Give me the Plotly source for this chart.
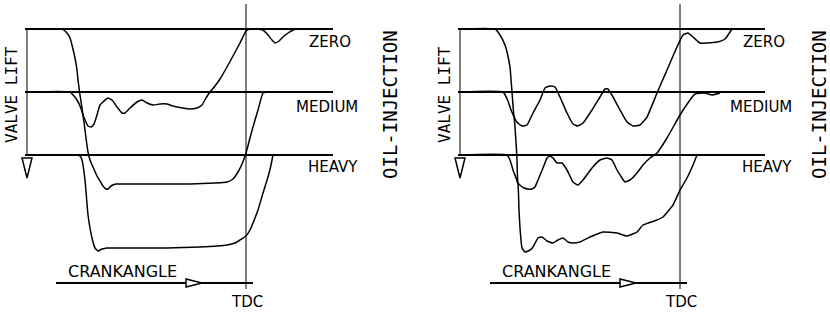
import plotly.graph_objects as go

# ---------------- data (crank angle in deg rel. to TDC, valve lift in arbitrary units, positive = open) -------------
# Left panel
L_zero_deg = [-218, -184, -181, -179, -176, -174, -171, -169, -168, -166, -164, -163, -161, -158, -155, -152, -149, -146, -143, -138,
              -134, -129, -124, -121, -116, -109, -104, -99, -93, -86, -79, -73, -63, -56, -49, -44, -40, -36, -31, -26,
              -19, -13, -6, 0, 4, 10, 17, 22, 26, 29, 33, 37, 42, 47, 50]
L_zero_lift = [0, 0, 2, 4, 9, 16, 29, 41, 51, 66, 79, 86, 91, 97, 98, 95, 86, 76, 73, 69,
               71, 78, 84, 84, 79, 73, 71, 74, 76, 75, 75, 77, 79, 80, 79, 76, 69, 63, 57, 50,
               38, 27, 14, 2, 0, 0, 1, 6, 11, 14, 12, 8, 4, 1, 0]
L_medium_deg = [-218, -176, -172, -169, -166, -163, -162, -160, -158, -156, -153, -149, -146, -143, -140, -138, -135, -130, -116, -86,
                -56, -31, -19, -13, -8, -4, 0, 4, 7, 12, 17, 22]
L_medium_lift = [0, 0, 4, 8, 14, 23, 30, 46, 60, 68, 75, 84, 89, 94, 97, 97, 94, 92, 92, 92,
                 92, 91, 90, 87, 80, 72, 61, 46, 35, 18, 1, 0]
L_heavy_deg = [-218, -169, -166, -164, -161, -158, -154, -151, -148, -144, -139, -116, -79, -46, -19, -11, -6, 0, 4, 7,
               12, 17, 22, 25, 27]
L_heavy_lift = [0, 0, 1, 5, 25, 60, 83, 93, 96, 94, 93, 93, 93, 92, 90, 88, 85, 81, 75, 68,
                55, 38, 22, 10, 0]

# Right panel
R_zero_deg = [-220, -185, -180, -175, -173, -170, -168, -166, -164, -161, -158, -153, -147, -140, -135, -130, -125, -120, -113, -107,
              -102, -97, -88, -80, -75, -72, -67, -60, -53, -47, -40, -33, -23, -13, -3, 3, 8, 13, 20, 27,
              37, 45, 52]
R_zero_lift = [0, 0, 6, 16, 23, 38, 63, 87, 92, 95, 97, 96, 84, 71, 59, 57, 58, 68, 84, 95,
               97, 94, 81, 68, 60, 60, 68, 81, 93, 97, 96, 88, 64, 41, 18, 6, 4, 8, 14, 14,
               13, 10, 0]
R_medium_deg = [-220, -177, -172, -169, -166, -164, -163, -162, -159, -156, -152, -148, -145, -142, -137, -133, -130, -127, -123, -118,
                -113, -107, -102, -97, -88, -80, -73, -68, -63, -58, -55, -50, -43, -37, -30, -23, -13, 0, 10, 15,
                25, 32, 40]
R_medium_lift = [0, 0, 9, 18, 25, 50, 68, 91, 94, 96, 97, 97, 95, 88, 76, 66, 64, 66, 71, 71,
                 78, 90, 93, 88, 76, 68, 66, 68, 78, 86, 90, 88, 81, 73, 66, 61, 46, 23, 8, 2,
                 1, 3, 1]
R_heavy_deg = [-220, -173, -170, -167, -164, -162, -161, -160, -158, -155, -150, -147, -142, -138, -133, -127, -122, -117, -112, -107,
               -100, -90, -77, -63, -53, -43, -37, -23, -17, -7, 0, 7, 13, 17]
R_heavy_lift = [0, 0, 5, 15, 23, 29, 55, 73, 93, 97, 95, 92, 83, 82, 86, 88, 85, 83, 87, 88,
                87, 82, 77, 78, 81, 77, 70, 65, 62, 50, 35, 23, 10, 0]

levels = ["ZERO", "MEDIUM", "HEAVY"]
level_offsets = [0, 63, 126]   # vertical offset of each trace's baseline

panels = [
    {"xa": "x", "ya": "y", "curves": [(L_zero_deg, L_zero_lift), (L_medium_deg, L_medium_lift), (L_heavy_deg, L_heavy_lift)],
     "x0": -221, "x1": 87, "oil_x": 144},
    {"xa": "x2", "ya": "y2", "curves": [(R_zero_deg, R_zero_lift), (R_medium_deg, R_medium_lift), (R_heavy_deg, R_heavy_lift)],
     "x0": -222, "x1": 85, "oil_x": 139},
]

FONT = "DejaVu Sans"
MONO = "DejaVu Sans Mono"
fig = go.Figure()
shapes = []
annotations = []
label_dx = {"ZERO": 107, "MEDIUM": 114, "HEAVY": 114}
label_dy = {"ZERO": 13, "MEDIUM": 15, "HEAVY": 12}

for p in panels:
    xa, ya = p["xa"], p["ya"]
    xref, yref = xa, ya
    for (deg, lift), off in zip(p["curves"], level_offsets):
        fig.add_trace(go.Scatter(x=deg, y=[v + off for v in lift], mode="lines", xaxis=xa, yaxis=ya,
                                 line=dict(color="black", width=1.5, shape="spline", smoothing=0.4),
                                 hoverinfo="skip", showlegend=False))
    # baselines
    for off in level_offsets:
        shapes.append(dict(type="line", xref=xref, yref=yref, x0=p["x0"], x1=p["x1"], y0=off, y1=off,
                           line=dict(color="black", width=2)))
    # valve-lift axis
    ax_x = p["x0"] + 2
    shapes.append(dict(type="line", xref=xref, yref=yref, x0=ax_x, x1=ax_x, y0=-1, y1=127,
                       line=dict(color="black", width=1)))
    shapes.append(dict(type="path", xref=xref, yref=yref,
                       path=f"M {ax_x-5},129 L {ax_x+5},129 L {ax_x},149 Z",
                       line=dict(color="black", width=1.5)))
    # TDC line
    shapes.append(dict(type="line", xref=xref, yref=yref, x0=0, x1=0, y0=-25, y1=260,
                       line=dict(color="black", width=1)))
    # crank angle axis
    shapes.append(dict(type="line", xref=xref, yref=yref, x0=-190, x1=7, y0=254, y1=254,
                       line=dict(color="black", width=2)))
    shapes.append(dict(type="path", xref=xref, yref=yref,
                       path="M -60,250 L -60,258 L -44,254 Z",
                       fillcolor="white", line=dict(color="black", width=1.5)))
    # labels
    for lab, off in zip(levels, level_offsets):
        annotations.append(dict(text=lab, xref=xref, yref=yref, x=label_dx[lab], y=off + label_dy[lab],
                                xanchor="right", yanchor="middle", showarrow=False,
                                font=dict(family=FONT, size=15, color="black")))
    annotations.append(dict(text="CRANKANGLE", xref=xref, yref=yref, x=-124, y=242.5, xanchor="center", yanchor="middle",
                            showarrow=False, font=dict(family=FONT, size=16, color="black")))
    annotations.append(dict(text="TDC", xref=xref, yref=yref, x=1, y=273, xanchor="center", yanchor="middle",
                            showarrow=False, font=dict(family=FONT, size=15, color="black")))
    annotations.append(dict(text="VALVE LIFT", xref=xref, yref=yref, x=p["x0"] - 14, y=66, xanchor="center", yanchor="middle",
                            textangle=-90, showarrow=False, font=dict(family=MONO, size=16, color="black")))
    annotations.append(dict(text="OIL-INJECTION", xref=xref, yref=yref, x=p["oil_x"], y=76,
                            xanchor="center", yanchor="middle",
                            textangle=-90, showarrow=False, font=dict(family=MONO, size=19, color="black")))

axis_common = dict(visible=False, showgrid=False, zeroline=False)
fig.update_layout(
    width=830, height=313, autosize=False,
    margin=dict(l=0, r=0, t=0, b=0),
    paper_bgcolor="white", plot_bgcolor="white",
    xaxis=dict(domain=[0, 0.5], range=[-246, 169], **axis_common),
    yaxis=dict(domain=[0, 1], range=[284, -29], anchor="x", **axis_common),
    xaxis2=dict(domain=[0.5, 1], range=[-265, 150], anchor="y2", **axis_common),
    yaxis2=dict(domain=[0, 1], range=[284, -29], anchor="x2", **axis_common),
    shapes=shapes, annotations=annotations, showlegend=False,
)

fig.write_html("out.html", config={"displayModeBar": False},
               post_script="document.body.style.margin='0px';")
